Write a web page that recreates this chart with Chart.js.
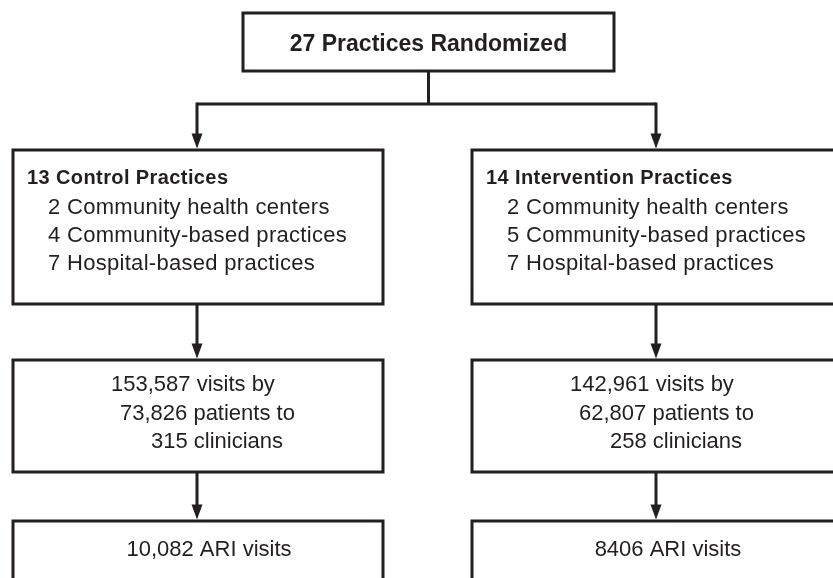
<!DOCTYPE html>
<html>
<head>
<meta charset="utf-8">
<script src="https://cdn.jsdelivr.net/npm/chart.js@4/dist/chart.umd.min.js"></script>
<style>
  html, body { margin: 0; padding: 0; background: #fff; }
  #flow { display: block; }
</style>
</head>
<body>
<canvas id="flow" width="833" height="578"></canvas>
<script>
// flowchart content
const topLabel = '27 Practices Randomized';
const groupTitles = ['13 Control Practices', '14 Intervention Practices'];
const practiceTypes = ['Community health centers', 'Community-based practices', 'Hospital-based practices'];
const controlCounts = [2, 4, 7];
const interventionCounts = [2, 5, 7];
const visitCounts = [153587, 142961];
const patientCounts = [73826, 62807];
const clinicianCounts = [315, 258];
const ariVisitCounts = [10082, 8406];

// layout in page units (x: 0..833, y: 0..578 top-down)
const layout = {
    top: { x0: 243, x1: 614, y0: 13, y1: 71 },
    splitY: 104,
    colLeft: [13, 472],
    colWidth: 370,
    rows: [
        { y0: 150, y1: 304 },  // practice groups
        { y0: 360, y1: 472 },  // visits
        { y0: 521, y1: 600 }   // ARI visits
    ]
};

const ink = '#231f20';
const fontName = '"Liberation Sans", Arial, Helvetica, sans-serif';

function fmt(n) {
    return n >= 10000 ? n.toLocaleString('en-US') : String(n);
}

const flowPlugin = {
    id: 'flow',
    afterDraw(chart) {
        const ctx = chart.ctx;
        const sx = v => chart.scales.x.getPixelForValue(v);
        const sy = v => chart.scales.y.getPixelForValue(v);

        ctx.save();
        ctx.strokeStyle = ink;
        ctx.fillStyle = ink;
        ctx.lineWidth = 3;
        ctx.lineCap = 'butt';
        ctx.lineJoin = 'miter';

        function box(x0, y0, x1, y1) {
            ctx.strokeRect(sx(x0), sy(y0), sx(x1) - sx(x0), sy(y1) - sy(y0));
        }
        function line(pts) {
            ctx.beginPath();
            pts.forEach((p, i) => i ? ctx.lineTo(sx(p[0]), sy(p[1])) : ctx.moveTo(sx(p[0]), sy(p[1])));
            ctx.stroke();
        }
        function arrowDown(x, y0, y1) {
            const tip = y1 - 1.5;
            line([[x, y0], [x, tip - 12]]);
            ctx.beginPath();
            ctx.moveTo(sx(x) - 5.5, sy(tip - 15));
            ctx.lineTo(sx(x) + 5.5, sy(tip - 15));
            ctx.lineTo(sx(x), sy(tip));
            ctx.closePath();
            ctx.fill();
        }
        function text(str, x, y, size, bold, align, spacing) {
            ctx.font = (bold ? 'bold ' : '') + size + 'px ' + fontName;
            ctx.textAlign = align;
            ctx.textBaseline = 'alphabetic';
            if ('letterSpacing' in ctx) ctx.letterSpacing = spacing + 'px';
            ctx.fillText(str, sx(x), sy(y));
        }

        // top box
        const t = layout.top;
        box(t.x0, t.y0, t.x1, t.y1);
        text(topLabel, (t.x0 + t.x1) / 2, 51, 23, true, 'center', 0);

        // split connector
        const mids = layout.colLeft.map(l => l + 184);
        const midTop = (t.x0 + t.x1) / 2;
        line([[midTop, t.y1], [midTop, layout.splitY]]);
        line([[mids[0], layout.splitY], [mids[1], layout.splitY]]);

        const counts = [controlCounts, interventionCounts];
        layout.colLeft.forEach((left, c) => {
            const right = left + layout.colWidth;
            const r = layout.rows;
            const mid = mids[c];

            arrowDown(mid, layout.splitY - 1.5, r[0].y0);
            box(left, r[0].y0, right, r[0].y1);
            text(groupTitles[c], left + 14, 184, 20, true, 'left', 0.4);
            practiceTypes.forEach((p, i) => {
                text(counts[c][i] + ' ' + p, left + 35, 214 + i * 28, 22, false, 'left', 0.3);
            });

            arrowDown(mid, r[0].y1, r[1].y0);
            box(left, r[1].y0, right, r[1].y1);
            text(fmt(visitCounts[c]) + ' visits by', left + 98, 391, 22, false, 'left', 0);
            text(fmt(patientCounts[c]) + ' patients to', left + 107, 420, 22, false, 'left', 0);
            text(fmt(clinicianCounts[c]) + ' clinicians', left + 138, 448, 22, false, 'left', 0);

            arrowDown(mid, r[1].y1, r[2].y0);
            box(left, r[2].y0, right, r[2].y1);
            text(fmt(ariVisitCounts[c]) + ' ARI visits', left + 196, 556, 22, false, 'center', 0);
        });

        ctx.restore();
    }
};

new Chart(document.getElementById('flow').getContext('2d'), {
    type: 'scatter',
    data: { datasets: [{ data: [], pointRadius: 0 }] },
    options: {
        responsive: false,
        animation: false,
        layout: { padding: 0 },
        plugins: { legend: { display: false }, tooltip: { enabled: false } },
        scales: {
            x: { type: 'linear', min: 0, max: 833, display: false },
            y: { type: 'linear', min: 0, max: 578, reverse: true, display: false }
        }
    },
    plugins: [flowPlugin]
});
</script>
</body>
</html>
